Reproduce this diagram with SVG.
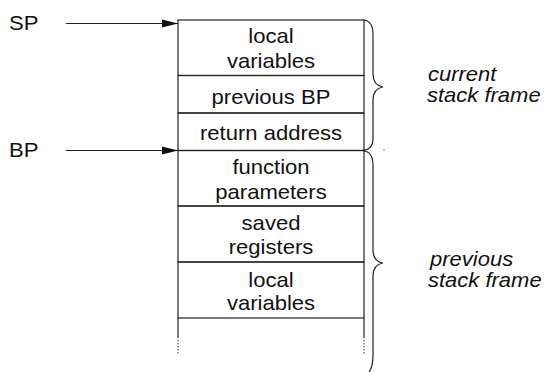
<svg xmlns="http://www.w3.org/2000/svg" width="545" height="372" viewBox="0 0 545 372">
<style>
.t{font-family:"Liberation Sans",Arial,sans-serif;font-size:21px;fill:#111}
.c{text-anchor:middle}
.i{font-style:italic;font-size:20px}
.cell{fill:none;stroke:#222;stroke-width:1.2}
.ln{fill:none;stroke:#222;stroke-width:1.2}
.dot{fill:none;stroke:#555;stroke-width:1.2;stroke-dasharray:1.5 1.5}
</style>
<defs>
<marker id="ah" markerUnits="userSpaceOnUse" markerWidth="17" markerHeight="9" refX="16" refY="4.5" orient="auto">
<polygon points="0,0.5 16,4.5 0,8.5" fill="#111"/>
</marker>
</defs>
<g id="stack">
<g id="cell-local1"><rect class="cell" x="178" y="20" width="186" height="55.5"/>
<text class="t c" transform="translate(271,43) scale(1.05,1)">local</text>
<text class="t c" transform="translate(271,68) scale(1.05,1)">variables</text></g>
<g id="cell-prevbp"><rect class="cell" x="178" y="75.5" width="186" height="37.5"/>
<text class="t c" transform="translate(271,104) scale(1.05,1)">previous BP</text></g>
<g id="cell-ret"><rect class="cell" x="178" y="113" width="186" height="37.5"/>
<text class="t c" transform="translate(271,139.5) scale(1.05,1)">return address</text></g>
<g id="cell-params"><rect class="cell" x="178" y="150.5" width="186" height="55.5"/>
<text class="t c" transform="translate(271,173.5) scale(1.05,1)">function</text>
<text class="t c" transform="translate(271,198.5) scale(1.05,1)">parameters</text></g>
<g id="cell-saved"><rect class="cell" x="178" y="206" width="186" height="56"/>
<text class="t c" transform="translate(271,230) scale(1.05,1)">saved</text>
<text class="t c" transform="translate(271,253.5) scale(1.05,1)">registers</text></g>
<g id="cell-local2"><rect class="cell" x="178" y="262" width="186" height="56"/>
<text class="t c" transform="translate(271,286.5) scale(1.05,1)">local</text>
<text class="t c" transform="translate(271,310) scale(1.05,1)">variables</text></g>
<g id="cell-more">
<path class="ln" d="M178,318 V337 M364,318 V337"/>
<path class="dot" d="M178,337 V354 M364,337 V354"/></g>
</g>
<g id="label-sp"><text class="t" transform="translate(9,29.5) scale(1.05,1)">SP</text></g>
<g id="label-bp"><text class="t" transform="translate(9,157) scale(1.05,1)">BP</text></g>
<g id="label-current"><text class="t i" transform="translate(428,81) scale(1.1,1)">current</text>
<text class="t i" transform="translate(427,102) scale(1.1,1)">stack frame</text></g>
<g id="label-previous"><text class="t i" transform="translate(430,266) scale(1.1,1)">previous</text>
<text class="t i" transform="translate(428,287) scale(1.1,1)">stack frame</text></g>
<g id="connectors">
<line class="ln" x1="66" y1="23.5" x2="178" y2="23.5" marker-end="url(#ah)"/>
<line class="ln" x1="66" y1="150.5" x2="178" y2="150.5" marker-end="url(#ah)"/>
<path class="ln" d="M363,20 C370,20 373,25 373,35 L373,74 C373,82 377,86 383,87 C377,88 373,92 373,100 L373,138 C373,146 370,150 363,150"/>
<path class="ln" d="M363,151 C370,151 373,156 373,166 L373,250 C373,258 377,262 383,263 C377,264 373,268 373,276 L373,355 C373,364 371,370 368,374"/>
<circle cx="384" cy="150" r="0.7" fill="#666"/>
</g>
</svg>
